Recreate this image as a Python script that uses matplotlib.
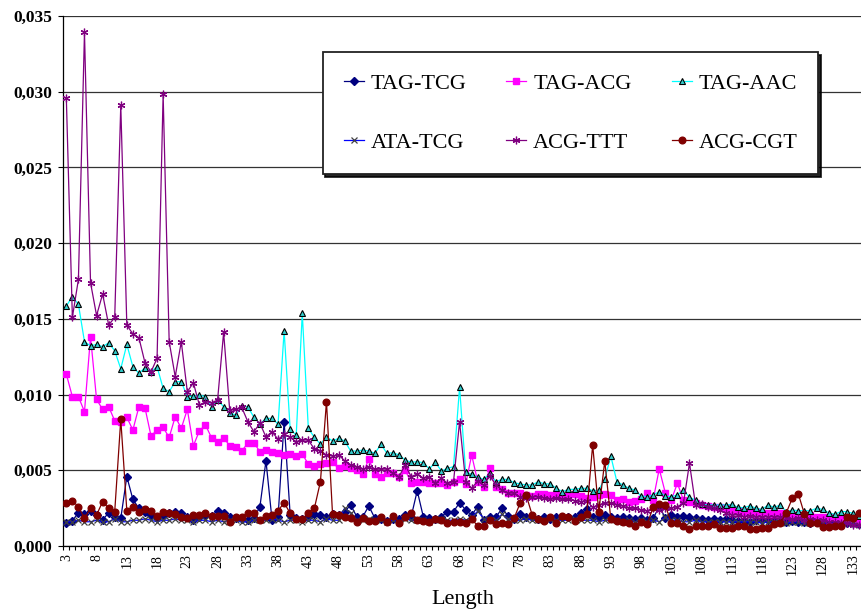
import matplotlib
matplotlib.use("Agg")
import matplotlib.pyplot as plt
from matplotlib.ticker import FixedLocator, MultipleLocator

# lengths 3..134
lengths = list(range(3, 135))

tag_tcg = [
    .00154, .00167, .0022, .00211, .00233, .00205, .00172, .0022, .00194, .00183,
    .00458, .00308, .00249, .00227, .00205, .00183, .00198, .00216, .00224, .00216,
    .00194, .00172, .00189, .00205, .00198, .00233, .00216, .00194, .00183, .00176,
    .00172, .00183, .0026, .00563, .00172, .00194, .00821, .00205, .00183, .00176,
    .00194, .00211, .00205, .00194, .00211, .00205, .00227, .00271, .00194, .00194,
    .00264, .00183, .00176, .00167, .00176, .00176, .00205, .00194, .00365, .00194,
    .00183, .00176, .00194, .00227, .00227, .00286, .00238, .00205, .0026, .00172,
    .00194, .00189, .00249, .002, .00176, .00211, .00194, .00194, .00176, .00189,
    .00176, .00194, .00194, .00189, .00189, .00216, .00242, .0019, .0019, .00205,
    .00189, .00183, .00189, .00183, .00176, .00183, .00172, .00183, .0026, .00187,
    .00205, .00194, .00198, .00194, .00183, .00176, .00172, .00176, .00172, .00176,
    .00172, .00167, .00167, .00161, .00172, .00172, .00172, .00167, .00161, .00161,
    .00167, .00161, .00161, .00154, .00161, .00154, .0015, .0015, .0015, .0015,
    .0015, .00145,
]

tag_acg = [
    .01135, .00986, .00986, .00887, .01382, .00968, .00902, .0092, .00827, .00821,
    .0085, .00766, .0092, .00913, .00726, .00766, .00783, .00717, .00854, .00777,
    .00902, .00662, .00761, .00799, .00715, .00689, .00715, .00662, .00651, .00629,
    .00678, .00682, .00623, .00634, .00623, .00616, .006, .00607, .00594, .00607,
    .00541, .0053, .00541, .00546, .00553, .00513, .00528, .00513, .00502, .00476,
    .00575, .00476, .00458, .00484, .0048, .00454, .00502, .00418, .00425, .00425,
    .00418, .00418, .00414, .00403, .00425, .0044, .00407, .00601, .00425, .00392,
    .00513, .00387, .00374, .00348, .00348, .00348, .00337, .0033, .00343, .00343,
    .00337, .00337, .0033, .0033, .00343, .0033, .00315, .00321, .00337, .00341,
    .00337, .00304, .00308, .00293, .003, .00308, .00352, .00304, .00509, .00352,
    .00304, .00414, .00304, .00293, .00286, .00271, .00264, .00255, .00255, .00249,
    .00238, .00233, .00227, .00227, .00227, .0022, .00216, .00211, .00216, .00211,
    .00205, .00205, .00198, .00205, .00194, .00194, .00189, .00183, .00183, .00176,
    .00172, .00172,
]

tag_aac = [
    .01585, .01647, .01596, .01349, .01322, .01331, .01316, .01342, .01289, .0117,
    .01331, .01184, .0114, .01177, .01151, .01184, .01041, .01019, .01085, .01085,
    .00986, .0099, .00997, .00986, .0092, .00964, .0092, .0088, .00865, .00924,
    .0092, .0085, .00805, .00843, .00843, .00805, .0142, .0077, .00733, .01536,
    .00777, .00717, .00673, .0072, .00694, .00711, .00694, .00627, .00627, .00634,
    .00627, .00612, .00671, .00612, .00616, .00601, .00568, .00553, .00557, .0055,
    .00509, .00553, .00495, .00513, .00524, .01048, .00491, .00473, .00454, .0044,
    .0048, .00425, .0044, .0044, .00418, .0041, .00403, .00403, .00425, .0041,
    .0041, .00381, .00359, .00374, .00374, .00381, .00381, .00365, .0037, .00443,
    .00594, .00425, .00403, .00381, .0037, .0033, .00326, .00337, .00359, .0033,
    .00326, .00337, .0037, .00321, .00304, .00277, .00271, .00271, .00271, .00271,
    .00275, .00255, .00253, .00266, .00249, .00242, .00271, .00255, .00271, .00227,
    .00238, .00233, .00233, .00233, .00249, .00242, .0022, .00209, .00227, .00227,
    .00216, .00198,
]

ata_tcg = [
    .0016, .0016, .0017, .0016, .0016, .0017, .0016, .0016, .0018, .0016,
    .0016, .0017, .0017, .0018, .0017, .0016, .0017, .0017, .0018, .0017,
    .0017, .0016, .0017, .0017, .0016, .0017, .0016, .0017, .0017, .0016,
    .0016, .0017, .0017, .0017, .0018, .0017, .0016, .0017, .0017, .0016,
    .0017, .0017, .0016, .0018, .0017, .0017, .0025, .0022, .0017, .0017,
    .0018, .0017, .0017, .0016, .0017, .0016, .0018, .0017, .0017, .0017,
    .0016, .0017, .0018, .0017, .0017, .0018, .0017, .0019, .0023, .0018,
    .0017, .0017, .0021, .0018, .0017, .0017, .0018, .0017, .0017, .0017,
    .0018, .0017, .0017, .0017, .0018, .0017, .0017, .0017, .0016, .0017,
    .0017, .0017, .0016, .0017, .0016, .0017, .0016, .0017, .0016, .0019,
    .0017, .0017, .0016, .0016, .0017, .0016, .0016, .0016, .0016, .0016,
    .0016, .0016, .0016, .0016, .0016, .0015, .0016, .0016, .0016, .0015,
    .0016, .0016, .0015, .0015, .0016, .0015, .0015, .0015, .0015, .0015,
    .0015, .0014,
]

acg_ttt = [
    .0296, .0151, .01761, .03393, .01739, .01522, .01664, .01459, .0151, .0291,
    .01459, .014, .01375, .0121, .0115, .0124, .02983, .01349, .01118, .01349,
    .01019, .01078, .0093, .00953, .00946, .00964, .0141, .00898, .00902, .00915,
    .00821, .00755, .0081, .0072, .00755, .00704, .00737, .00717, .00689, .007,
    .007, .0064, .0063, .006, .00594, .00601, .00564, .00535, .00524, .00506,
    .0052, .00506, .00508, .00508, .0048, .00458, .00535, .00458, .00476, .00447,
    .00454, .00414, .00447, .00414, .00425, .0082, .00425, .00381, .0043, .00403,
    .00462, .00403, .0037, .00352, .00348, .00322, .00315, .00326, .00326, .00315,
    .00308, .00315, .00308, .00308, .003, .00293, .003, .00255, .00271, .00282,
    .00286, .00271, .00264, .00249, .00249, .00238, .00233, .00249, .00238, .00249,
    .00249, .0026, .00282, .00546, .00271, .00277, .0026, .00249, .00238, .00216,
    .00205, .00205, .00194, .00198, .00194, .00189, .00194, .00194, .00189, .00183,
    .00176, .00183, .00172, .00176, .00172, .00172, .00161, .00161, .00154, .0015,
    .0014, .00139,
]

acg_cgt = [
    .00286, .00299, .0026, .00183, .00249, .00205, .00293, .00249, .00227, .00836,
    .00233, .00255, .00222, .00242, .00233, .00198, .00222, .00216, .00211, .00189,
    .00183, .00205, .00205, .0022, .00198, .00198, .00198, .00161, .00189, .00189,
    .0022, .00216, .00172, .00198, .00205, .00233, .00286, .00216, .00178, .00178,
    .0022, .00249, .00425, .00953, .00211, .00205, .00194, .00183, .00161, .00183,
    .00167, .00167, .00194, .00161, .00198, .0015, .00194, .00216, .00172, .00167,
    .00161, .00176, .00172, .0015, .00161, .00161, .00154, .00176, .00134, .00134,
    .00172, .00145, .0015, .00145, .00183, .00282, .00337, .00205, .00176, .00167,
    .00194, .0015, .002, .00194, .00167, .00194, .00209, .00667, .00227, .00561,
    .00176, .00167, .00161, .00154, .00134, .00161, .00145, .00255, .00277, .00271,
    .0015, .0015, .00132, .00112, .00134, .00132, .00134, .00145, .00121, .00121,
    .00121, .00132, .00134, .00112, .00112, .00121, .00117, .00145, .0015, .0022,
    .00315, .00343, .00211, .0015, .0015, .00128, .00128, .00134, .00134, .00194,
    .00183, .00216,
]

x_ticks = list(range(3, 134, 5))
y_ticks = [0.0, 0.005, 0.010, 0.015, 0.020, 0.025, 0.030, 0.035]
y_ticklabels = ["0,000", "0,005", "0,010", "0,015", "0,020", "0,025", "0,030", "0,035"]

plt.rcParams["font.family"] = ["Liberation Serif", "DejaVu Serif"]

fig = plt.figure(figsize=(8.61, 6.10), dpi=100)
ax = fig.add_axes([63.3 / 861, 64 / 610, 798.6 / 861, 530 / 610])

lw = 0.9
ax.plot(lengths, tag_tcg, color="#000080", lw=lw, marker="D", ms=3.6,
        mfc="#000080", mec="#000080", label="TAG-TCG", zorder=3)
ax.plot(lengths, tag_acg, color="#FF00FF", lw=lw, marker="s", ms=4.6,
        mfc="#FF00FF", mec="#FF00FF", label="TAG-ACG", zorder=3)
ax.plot(lengths, tag_aac, color="#00FFFF", lw=lw, marker="^", ms=4.8,
        mfc="#33CCCC", mec="black", mew=0.8, label="TAG-AAC", zorder=3)
ax.plot(lengths, ata_tcg, color="#0000FF", lw=lw, marker="x", ms=4.5,
        mec="#404040", mew=0.9, label="ATA-TCG", zorder=3)
ax.plot(lengths, acg_ttt, color="#800080", lw=lw, marker=(6, 2, 0), ms=5.5,
        mec="#800080", mew=0.9, label="ACG-TTT", zorder=3)
ax.plot(lengths, acg_cgt, color="#800000", lw=lw, marker="o", ms=4.8,
        mfc="#800000", mec="#800000", label="ACG-CGT", zorder=3)

ax.set_xlim(2.5, 134.5)
ax.set_ylim(0, 0.035)

ax.set_yticks(y_ticks)
ax.set_yticklabels(y_ticklabels, fontsize=12.5, fontweight="bold")
ax.tick_params(axis="y", direction="out", length=3.6, width=0.8, pad=4.5)
ax.yaxis.grid(True, color="#333333", lw=0.9)
ax.set_axisbelow(True)

ax.xaxis.set_major_locator(FixedLocator(x_ticks))
ax.set_xticklabels([str(v) for v in x_ticks], rotation=90, fontsize=10)
ax.xaxis.set_minor_locator(MultipleLocator(1, offset=0.5))
ax.tick_params(axis="x", which="major", length=0, pad=5.5)
ax.tick_params(axis="x", which="minor", direction="out", length=3, width=0.8)

for side in ["top", "right"]:
    ax.spines[side].set_visible(False)
for side in ["left", "bottom"]:
    ax.spines[side].set_linewidth(0.9)
    ax.spines[side].set_color("black")

ax.set_xlabel("Length", fontsize=16, labelpad=11)

# legend filled row by row like the original
h, l = ax.get_legend_handles_labels()
order = [0, 3, 1, 4, 2, 5]
leg = ax.legend([h[i] for i in order], [l[i] for i in order], ncol=3,
                loc="upper left", bbox_to_anchor=(0.3246, 0.932, 0.621, 0),
                mode="expand", borderaxespad=0, fontsize=16,
                handlelength=0.9, handletextpad=0.3, labelspacing=1.75,
                borderpad=0.95, fancybox=False, framealpha=1,
                shadow={"color": "black", "alpha": 0.85})
leg.get_frame().set_edgecolor("#222222")
leg.get_frame().set_linewidth(1.3)

fig.savefig("out.png", dpi=100)
